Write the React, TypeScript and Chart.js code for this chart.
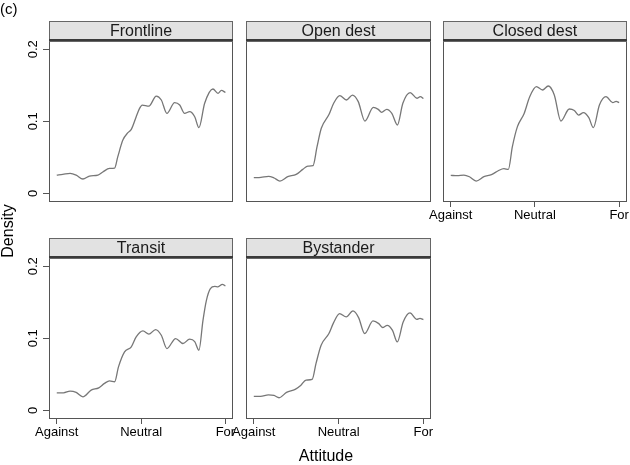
import React, { useEffect, useRef } from "react";
import { Chart, registerables } from "chart.js";

Chart.register(...registerables);

// ---------- data ----------
const panelNames = ["Frontline", "Open dest", "Closed dest", "Transit", "Bystander"];
const xTickValues = [0, 50, 100];
const xTickLabels = ["Against", "Neutral", "For"];
const yTickValues = [0, 0.1, 0.2];
const yTickLabels = ["0", "0.1", "0.2"];

const frontlineX = [0, 3.6, 7.9, 11.5, 15.5, 19.4, 24.4, 27.3, 31.3, 34.3, 36.2, 39.2, 42.2, 44.2, 47.1, 49.1, 50.7, 54.6, 59, 62, 65.3, 69.9, 72.9, 75.8, 78.8, 81.8, 84.3, 87.7, 92.6, 95.6, 97.6, 100];
const frontlineY = [0.0254, 0.0264, 0.0278, 0.0254, 0.0199, 0.024, 0.0254, 0.0296, 0.0347, 0.035, 0.0509, 0.074, 0.0842, 0.0889, 0.1064, 0.118, 0.1226, 0.121, 0.1351, 0.1296, 0.111, 0.1259, 0.1226, 0.111, 0.1134, 0.1064, 0.0912, 0.125, 0.1449, 0.1389, 0.143, 0.14];

const openDestX = [0, 4.2, 8.7, 12, 15.4, 20, 25, 28.9, 31.9, 34.9, 37.3, 39.8, 44.4, 47.1, 50.7, 54.6, 58.2, 61.6, 65.5, 70.5, 73.4, 75.4, 78.4, 81.4, 84.7, 87.9, 92.2, 96.2, 98.2, 100];
const openDestY = [0.0217, 0.0222, 0.0236, 0.0213, 0.0171, 0.0231, 0.0264, 0.0333, 0.0379, 0.0384, 0.0648, 0.0903, 0.1097, 0.125, 0.1356, 0.1296, 0.1365, 0.1273, 0.1004, 0.1194, 0.1166, 0.1125, 0.1166, 0.111, 0.0949, 0.125, 0.1398, 0.132, 0.1343, 0.1315];

const closedDestX = [0, 3.8, 7.8, 11.1, 15.1, 19.7, 24.2, 28.2, 31.6, 34.2, 36.6, 39.6, 43.6, 46.9, 50.9, 54.5, 57.9, 61.5, 65.4, 70.4, 73.4, 75.9, 78.8, 82, 84.7, 88.3, 92.2, 96.2, 98.2, 100];
const closedDestY = [0.025, 0.0245, 0.0254, 0.0231, 0.0171, 0.0231, 0.0259, 0.0314, 0.0342, 0.0333, 0.0648, 0.0926, 0.111, 0.1342, 0.1481, 0.1435, 0.149, 0.1365, 0.1004, 0.1171, 0.115, 0.1087, 0.112, 0.105, 0.0912, 0.1226, 0.1342, 0.1259, 0.1278, 0.1259];

const transitX = [0, 4, 7.9, 11.5, 15.5, 20.4, 24.9, 28.3, 31.3, 34.3, 36.6, 40.2, 44.2, 47.1, 51.1, 54.6, 58.6, 62, 65.3, 70.5, 74.8, 78.8, 81.8, 84.3, 86.7, 88.7, 91.1, 93.7, 95.6, 98.2, 100];
const transitY = [0.0244, 0.0244, 0.0267, 0.0249, 0.0188, 0.0281, 0.0313, 0.0374, 0.041, 0.0397, 0.0604, 0.0812, 0.0881, 0.1019, 0.1102, 0.1057, 0.1122, 0.1043, 0.0858, 0.0997, 0.0928, 0.0988, 0.0955, 0.0835, 0.125, 0.1524, 0.169, 0.172, 0.1715, 0.175, 0.1726];

const bystanderX = [0, 4, 8.6, 11.9, 14.9, 19.3, 24.4, 27.8, 30.8, 34.4, 36.7, 39.7, 44.3, 47, 50.6, 54.5, 58.5, 61.8, 65.4, 70.3, 73.7, 75.9, 78.7, 81.8, 84.6, 88.1, 92.1, 96.1, 98, 100];
const bystanderY = [0.0194, 0.0194, 0.0216, 0.0207, 0.0175, 0.0249, 0.0291, 0.035, 0.042, 0.0429, 0.0651, 0.0904, 0.1066, 0.1214, 0.1343, 0.1297, 0.138, 0.1288, 0.1066, 0.1241, 0.1204, 0.115, 0.118, 0.111, 0.095, 0.1227, 0.1352, 0.1264, 0.1278, 0.126];

const seriesX = [frontlineX, openDestX, closedDestX, transitX, bystanderX];
const seriesY = [frontlineY, openDestY, closedDestY, transitY, bystanderY];

// ---------- layout ----------
const W = 630;
const H = 465;
const X_AXIS_H = 30;
const FONT = '"Liberation Sans", Arial, Helvetica, sans-serif';
const COLS = [
  [49, 233],
  [246, 431],
  [443, 627],
];
const ROWS = [
  { stripTop: 21, top: 41, bottom: 202 },
  { stripTop: 238, top: 258, bottom: 419 },
];
const PANELS = [
  { col: 0, row: 0, showX: false, showY: true },
  { col: 1, row: 0, showX: false, showY: false },
  { col: 2, row: 0, showX: true, showY: false },
  { col: 0, row: 1, showX: true, showY: true },
  { col: 1, row: 1, showX: true, showY: false },
];

function Panel({ index }: { index: number }) {
  const ref = useRef<HTMLCanvasElement | null>(null);
  useEffect(() => {
    const p = PANELS[index];
    const [L, R] = COLS[p.col];
    const row = ROWS[p.row];
    const name = panelNames[index];
    const data = seriesX[index].map((x, i) => ({ x, y: seriesY[index][i] }));
    const xh = p.showX ? X_AXIS_H : 0;

    const facetPlugin = {
      id: "facet" + index,
      afterDraw(chart: any) {
        const { ctx, chartArea: a } = chart;
        ctx.save();
        // panel box
        ctx.strokeStyle = "#555555";
        ctx.lineWidth = 1;
        ctx.strokeRect(Math.round(a.left) + 0.5, Math.round(a.top) + 0.5, Math.round(a.right - a.left) - 1, Math.round(a.bottom - a.top) - 1);
        // strip
        const sTop = row.stripTop;
        const sBot = Math.round(a.top);
        ctx.fillStyle = "#e2e2e2";
        ctx.fillRect(Math.round(a.left), sTop, Math.round(a.right - a.left), sBot - sTop);
        ctx.strokeStyle = "#666666";
        ctx.strokeRect(Math.round(a.left) + 0.5, sTop + 0.5, Math.round(a.right - a.left) - 1, sBot - sTop);
        ctx.fillStyle = "#3a3a3a";
        ctx.fillRect(Math.round(a.left), sBot - 2, Math.round(a.right - a.left), 2);
        ctx.fillStyle = "#1a1a1a";
        ctx.font = "16px " + FONT;
        ctx.textAlign = "center";
        ctx.textBaseline = "alphabetic";
        ctx.fillText(name, (a.left + a.right) / 2, sTop + 15);
        // rotated y tick labels
        if (p.showY) {
          const ys = chart.scales.y;
          ctx.font = "13px " + FONT;
          ctx.fillStyle = "#000";
          yTickValues.forEach((v, i) => {
            const py = ys.getPixelForValue(v);
            ctx.save();
            ctx.translate(a.left - 12.5, py);
            ctx.rotate(-Math.PI / 2);
            ctx.textAlign = "center";
            ctx.textBaseline = "alphabetic";
            ctx.fillText(yTickLabels[i], 0, 0);
            ctx.restore();
          });
        }
        ctx.restore();
      },
    };

    const chart = new Chart(ref.current as HTMLCanvasElement, {
      type: "line",
      data: {
        datasets: [
          {
            data,
            borderColor: "#777777",
            borderWidth: 1.3,
            pointRadius: 0,
            fill: false,
            cubicInterpolationMode: "monotone",
          },
        ],
      },
      options: {
        responsive: false,
        animation: false,
        events: [],
        layout: {
          padding: {
            left: L,
            right: W - R,
            top: row.top,
            bottom: H - row.bottom - xh,
          },
        },
        plugins: { legend: { display: false }, tooltip: { enabled: false }, title: { display: false } },
        scales: {
          x: {
            type: "linear",
            min: -4.6,
            max: 104.5,
            display: p.showX,
            afterFit: (s: any) => {
              s.height = xh;
            },
            afterBuildTicks: (s: any) => {
              s.ticks = xTickValues.map((v) => ({ value: v }));
            },
            ticks: {
              autoSkip: false,
              maxRotation: 0,
              minRotation: 0,
              padding: 1,
              color: "#000",
              font: { family: FONT, size: 13 },
              callback: (v: any) => xTickLabels[xTickValues.indexOf(v)],
            },
            grid: { drawOnChartArea: false, drawTicks: true, tickLength: 5, color: "#555555", lineWidth: 1 },
            border: { display: false },
          },
          y: {
            type: "linear",
            min: -0.012,
            max: 0.2115,
            display: p.showY,
            afterFit: (s: any) => {
              s.width = 0;
            },
            afterBuildTicks: (s: any) => {
              s.ticks = yTickValues.map((v) => ({ value: v }));
            },
            ticks: { display: false },
            grid: { drawOnChartArea: false, drawTicks: true, tickLength: 6, color: "#555555", lineWidth: 1 },
            border: { display: false },
          },
        },
      },
      plugins: [facetPlugin],
    } as any);
    return () => chart.destroy();
  }, [index]);
  return (
    <canvas
      ref={ref}
      width={W}
      height={H}
      style={{ position: "absolute", left: 0, top: 0, width: W, height: H }}
    />
  );
}

export default function App() {
  return (
    <div
      style={{
        position: "absolute",
        left: 0,
        top: 0,
        width: W,
        height: H,
        background: "#fff",
        fontFamily: FONT,
        color: "#000",
        overflow: "hidden",
      }}
    >
      {PANELS.map((_, i) => (
        <Panel key={i} index={i} />
      ))}
      <div style={{ position: "absolute", left: 0, top: 1, fontSize: 15, lineHeight: "15px", whiteSpace: "nowrap" }}>(c)</div>
      <div
        style={{
          position: "absolute",
          left: 7.5,
          top: 230.5,
          fontSize: 16,
          lineHeight: "16px",
          whiteSpace: "nowrap",
          transform: "translate(-50%, -50%) rotate(-90deg)",
        }}
      >
        Density
      </div>
      <div
        style={{
          position: "absolute",
          left: 326,
          top: 456,
          fontSize: 16,
          lineHeight: "16px",
          whiteSpace: "nowrap",
          transform: "translate(-50%, -50%)",
        }}
      >
        Attitude
      </div>
    </div>
  );
}
